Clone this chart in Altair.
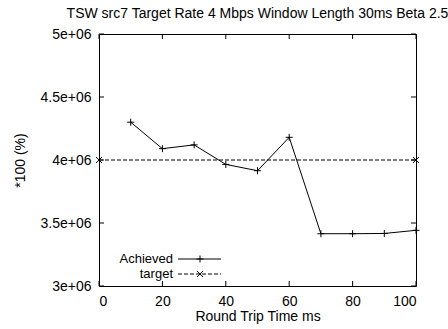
import altair as alt
import pandas as pd

# ---- data ----
rtt = [10, 20, 30, 40, 50, 60, 70, 80, 90, 100]
achieved = [4.30e6, 4.09e6, 4.12e6, 3.965e6, 3.915e6, 4.18e6, 3.415e6, 3.415e6, 3.417e6, 3.442e6]
target_x = [0, 100]
target_y = [4.0e6, 4.0e6]
x_ticks = [0, 20, 40, 60, 80, 100]
y_ticks = [3.0e6, 3.5e6, 4.0e6, 4.5e6, 5.0e6]

FONT = "Liberation Sans"
FS = 14
W, H = 317, 252
PLUS = "M-1,0L1,0M0,-1L0,1"
CROSS = "M-1,-1L1,1M-1,1L1,-1"

ach_df = pd.DataFrame({"x": rtt, "y": achieved})
tgt_df = pd.DataFrame({"x": target_x, "y": target_y})
xt_df = pd.DataFrame({"x": x_ticks})
yt_df = pd.DataFrame({"y": y_ticks})
one = pd.DataFrame({"a": [0]})

xscale = alt.Scale(domain=[0, 100], nice=False, zero=False)
yscale = alt.Scale(domain=[3e6, 5e6], nice=False, zero=False)

xenc = alt.X("x:Q", scale=xscale,
             axis=alt.Axis(title="Round Trip Time ms", values=x_ticks, ticks=False, domain=False,
                           grid=False, labelPadding=8, titlePadding=1, format="d"))
yenc = alt.Y("y:Q", scale=yscale,
             axis=alt.Axis(title="*100 (%)", values=y_ticks, ticks=False, domain=False,
                           grid=False, labelPadding=8, titlePadding=13,
                           labelExpr="format(datum.value / 1e6, '~g') + 'e+06'"))

ach_line = alt.Chart(ach_df).mark_line(color="black", strokeWidth=1).encode(x=xenc, y=yenc)
ach_pts = alt.Chart(ach_df).mark_point(shape=PLUS, filled=False, color="black", size=49,
                                       strokeWidth=1, opacity=1).encode(x="x:Q", y="y:Q")
tgt_line = alt.Chart(tgt_df).mark_line(color="black", strokeWidth=1, strokeDash=[4, 2]).encode(x="x:Q", y="y:Q")
tgt_pts = alt.Chart(tgt_df).mark_point(shape=CROSS, filled=False, color="black", size=36,
                                       strokeWidth=1, opacity=1).encode(x="x:Q", y="y:Q")

tick_b = alt.Chart(xt_df).mark_rule(color="black").encode(x="x:Q", y=alt.value(H), y2=alt.value(H - 5))
tick_t = alt.Chart(xt_df).mark_rule(color="black").encode(x="x:Q", y=alt.value(0), y2=alt.value(5))
tick_l = alt.Chart(yt_df).mark_rule(color="black").encode(y="y:Q", x=alt.value(0), x2=alt.value(5))
tick_r = alt.Chart(yt_df).mark_rule(color="black").encode(y="y:Q", x=alt.value(W), x2=alt.value(W - 5))

# legend (inside, bottom-left)
LFS = 13
ly1, ly2 = 225, 240
leg_t1 = alt.Chart(one).mark_text(align="right", baseline="middle", font=FONT, fontSize=LFS,
                                  color="black").encode(x=alt.value(74), y=alt.value(ly1), text=alt.value("Achieved"))
leg_t2 = alt.Chart(one).mark_text(align="right", baseline="middle", font=FONT, fontSize=LFS,
                                  color="black").encode(x=alt.value(74), y=alt.value(ly2), text=alt.value("target"))
leg_l1 = alt.Chart(one).mark_rule(color="black", strokeWidth=1).encode(
    x=alt.value(79), x2=alt.value(122), y=alt.value(ly1))
leg_l2 = alt.Chart(one).mark_rule(color="black", strokeWidth=1, strokeDash=[4, 2]).encode(
    x=alt.value(79), x2=alt.value(122), y=alt.value(ly2))
leg_p1 = alt.Chart(one).mark_point(shape=PLUS, filled=False, color="black", size=49, strokeWidth=1,
                                   opacity=1).encode(x=alt.value(101), y=alt.value(ly1))
leg_p2 = alt.Chart(one).mark_point(shape=CROSS, filled=False, color="black", size=36, strokeWidth=1,
                                   opacity=1).encode(x=alt.value(101), y=alt.value(ly2))

chart = alt.layer(
    ach_line, ach_pts, tgt_line, tgt_pts, tick_b, tick_t, tick_l, tick_r,
    leg_t1, leg_t2, leg_l1, leg_l2, leg_p1, leg_p2,
).properties(
    width=W, height=H,
    title=alt.TitleParams("TSW src7 Target Rate 4 Mbps Window Length 30ms Beta 2.5",
                          font=FONT, fontSize=FS, fontWeight="normal", color="black",
                          anchor="middle", offset=6),
    autosize=alt.AutoSizeParams(type="none"),
    padding={"left": 99, "top": 34, "right": 32, "bottom": 43},
    background="white",
).configure_view(
    stroke="black", strokeWidth=1
).configure_axis(
    labelFont=FONT, labelFontSize=FS, labelColor="black",
    titleFont=FONT, titleFontSize=FS, titleColor="black", titleFontWeight="normal",
)

chart.save("out.html", embed_options={"renderer": "svg", "actions": False})
